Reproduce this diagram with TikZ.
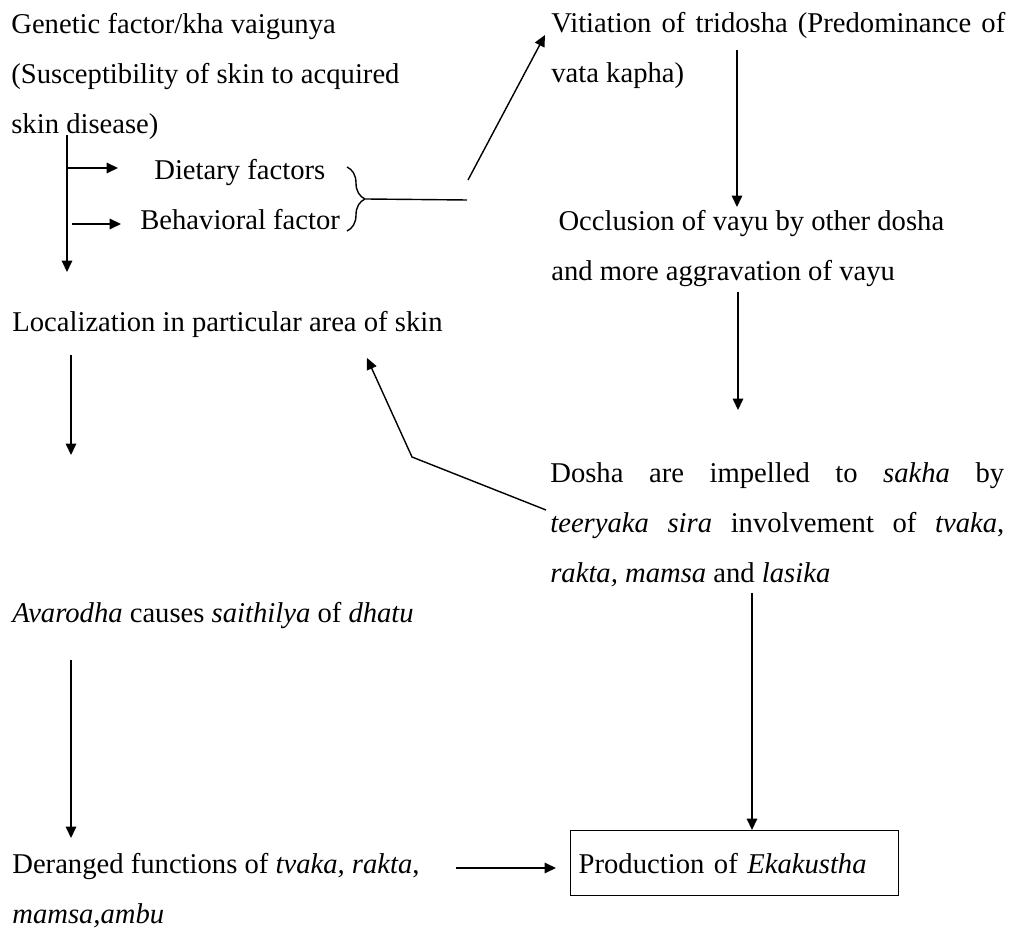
\documentclass[tikz,border=0pt]{standalone}
\usepackage{fontspec}
\setmainfont{Liberation Serif}
\usetikzlibrary{arrows.meta,decorations.pathreplacing}

\tikzset{
  txt/.style={inner sep=0pt, anchor=north west, align=left, font=\fontsize{16.3}{28.45}\selectfont},
  line/.style={anchor=base west, inner sep=0pt, font=\fontsize{16.3}{28.45}\selectfont},
  par/.style={txt, text width=9.08cm, align=justify},
  arr/.style={-{Triangle[length=6.5pt,width=6pt]}, line width=0.8pt},
  plain/.style={line width=0.8pt}
}

\begin{document}
\begin{tikzpicture}[x=0.02cm, y=-0.02cm]
    \useasboundingbox (0,0) rectangle (1009,929);

    % left column
    \node[txt] (gen) at (11,-2) {\strut Genetic factor/kha vaigunya\\(Susceptibility of skin to acquired\\skin disease)};
    \node[line] (diet) at (154,180) {Dietary factors};
    \node[line] (behav) at (140,230) {Behavioral factor};
    \node[line] (loc) at (12,332) {Localization in particular area of skin};
    \node[line] (avar) at (12,623) {\textit{Avarodha} causes \textit{saithilya} of \textit{dhatu}};
    \node[txt] (der) at (12,838) {\strut Deranged functions of \textit{tvaka, rakta},\\\textit{mamsa,ambu}};

    % right column
    \node[par] (vit) at (551,-3) {\strut Vitiation of tridosha (Predominance of\linebreak vata kapha)};
    \node[txt] (occ) at (551,195) {\strut\ Occlusion of vayu by other dosha\\and more aggravation of vayu};
    \node[par] (dosha) at (550,447) {\strut Dosha are impelled to \textit{sakha} by\linebreak \textit{teeryaka sira} involvement of \textit{tvaka},\linebreak \textit{rakta, mamsa} and \textit{lasika}};
    \node[txt, draw, line width=0.8pt, inner xsep=0.16cm, text width=6.24cm, minimum height=1.3cm] (prod) at (570,830) {Production of \textit{Ekakustha}};

    % hulppunten
    \coordinate (g0) at (67,135);
    \coordinate (g1) at (67,272);
    \coordinate (bt) at (347,167);
    \coordinate (bb) at (347,231);
    \coordinate (bj) at (467,200);
    \coordinate (k) at (412,457);

    % genetic branch
    \draw[arr] (g0) -- (g1);
    \draw[arr] (67,168) -- ([xshift=-0.72cm]diet.west |- 0,168);
    \draw[arr] (72,224) -- ([xshift=-0.38cm]behav.west |- 0,224);
    \draw[plain, decorate, decoration={brace, amplitude=0.36cm, aspect=0.5}] (bt) -- (bb);
    \draw[plain] (366,199) -- (bj);
    \draw[arr] (468,180) -- ([shift={(-6,38)}]vit.north west);

    % right chain
    \draw[arr] (737,50) -- (737,207);
    \draw[arr] (738,292) -- (738,410);
    \draw[plain, -{Triangle[length=6.5pt,width=6pt]}] ([shift={(-4,63)}]dosha.north west) -- (k) -- (367,358);
    \draw[arr] (752,593) -- (prod.north -| 752,0);

    % left chain
    \draw[arr] (71,355) -- (71,455);
    \draw[arr] (71,660) -- (71,838);
    \draw[arr] (456,868) -- ([xshift=-0.28cm]prod.west |- 0,868);
\end{tikzpicture}
\end{document}
